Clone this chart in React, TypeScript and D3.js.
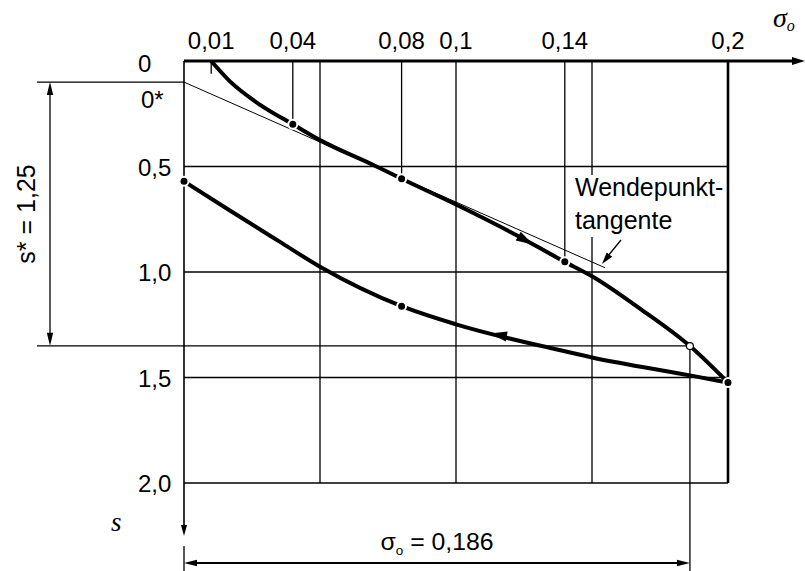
import { useEffect, useRef } from 'react';
import * as d3 from 'd3';

// top axis (sigma_o) ticks
const topTicks = [0.01, 0.04, 0.08, 0.1, 0.14, 0.2];
const topTickLabels = ['0,01', '0,04', '0,08', '0,1', '0,14', '0,2'];
const gridSigma = [0.05, 0.1, 0.15];
// left axis (s) ticks
const leftTicks = [0, 0.5, 1.0, 1.5, 2.0];
const leftTickLabels = ['0', '0,5', '1,0', '1,5', '2,0'];

// loading branch (upper curve)
const loadSigma = [0.01, 0.017, 0.028, 0.04, 0.05, 0.07, 0.08, 0.1, 0.12, 0.14, 0.15, 0.168, 0.186, 0.2];
const loadS = [0.0, 0.098, 0.208, 0.3, 0.375, 0.495, 0.558, 0.68, 0.81, 0.952, 1.02, 1.177, 1.351, 1.524];

// unloading branch (lower curve)
const unloadSigma = [0.0, 0.017, 0.035, 0.05, 0.08, 0.1, 0.138, 0.15, 0.186, 0.2];
const unloadS = [0.57, 0.71, 0.855, 0.975, 1.162, 1.248, 1.37, 1.405, 1.49, 1.524];

// marked points
const dropSigma = [0.04, 0.08, 0.14];
const dropS = [0.3, 0.558, 0.952];
const unloadDotSigma = [0.0, 0.08];
const unloadDotS = [0.57, 1.162];
const endSigma = 0.2;
const endS = 1.524;
const sigma0 = 0.186;
const sAtSigma0 = 1.351;

// inflection tangent
const tangentSigma = [0, 0.1548];
const tangentS = [0.1, 0.98];

// s* dimension
const sStarTop = 0.1;
const sStarBottom = 1.35;

// direction arrows on the curves
const arrowSigma = [0.1283, 0.1125];
const arrowS = [0.87, 1.292];
const arrowDir = [1, -1];

function App() {
  const svgRef = useRef<SVGSVGElement>(null);

  useEffect(() => {
    if (!svgRef.current) return;
    const svg = d3.select(svgRef.current);
    svg.selectAll('*').remove();

    const x = d3.scaleLinear().domain([0, 0.2]).range([184, 728]);
    const y = d3.scaleLinear().domain([0, 2]).range([61, 483]);
    const sans = 'Liberation Sans, Arial, sans-serif';
    const serif = 'Liberation Serif, Times New Roman, serif';

    const g = svg.append('g');

    const arrowHead = (tx: number, ty: number, angle: number, len = 13, half = 3.2) => {
      const c = Math.cos(angle), s = Math.sin(angle);
      const bx = tx - c * len, by = ty - s * len;
      g.append('path')
        .attr('d', `M${tx},${ty}L${bx - s * half},${by + c * half}L${bx + s * half},${by - c * half}Z`)
        .attr('fill', '#000');
    };

    const line = (x1: number, y1: number, x2: number, y2: number, w = 1.3) =>
      g.append('line')
        .attr('x1', x1).attr('y1', y1).attr('x2', x2).attr('y2', y2)
        .attr('stroke', '#000').attr('stroke-width', w);

    // grid
    gridSigma.forEach(v => line(x(v), y(0), x(v), y(2)));
    leftTicks.slice(1).forEach(v => line(x(0), y(v), x(0.2), y(v)));

    // drop lines from top axis to marked points
    dropSigma.forEach((v, i) => line(x(v), y(0), x(v), y(dropS[i])));

    // right boundary at 0.2
    line(x(0.2), y(0), x(0.2), y(2), 2.6);

    // left axis (s) with arrow
    line(x(0), y(0), x(0), 530, 1.6);
    arrowHead(x(0), 536, Math.PI / 2, 11, 3);
    line(x(0), 546, x(0), 571, 1.3);

    // top axis (sigma_o) with arrow
    line(x(0), y(0), 795, y(0), 3);
    arrowHead(805, y(0), 0, 13, 4);

    // s* dimension
    line(37, y(sStarTop), x(0), y(sStarTop));
    line(37, y(sStarBottom), x(sigma0), y(sStarBottom));
    line(50, y(sStarTop) + 6, 50, y(sStarBottom) - 6, 1.3);
    arrowHead(50, y(sStarTop), -Math.PI / 2);
    arrowHead(50, y(sStarBottom), Math.PI / 2);

    // sigma0 dimension
    line(x(sigma0), y(sAtSigma0), x(sigma0), 571);
    line(x(0) + 6, 563, x(sigma0) - 6, 563, 2);
    arrowHead(x(0), 563, Math.PI);
    arrowHead(x(sigma0), 563, 0);

    // tangent
    g.append('path')
      .datum(tangentSigma.map((v, i) => [v, tangentS[i]]))
      .attr('d', d3.line<number[]>().x(d => x(d[0])).y(d => y(d[1])))
      .attr('stroke', '#000').attr('stroke-width', 1).attr('fill', 'none');

    // curves
    const curve = d3.line<number[]>().x(d => x(d[0])).y(d => y(d[1])).curve(d3.curveMonotoneX);
    g.append('path')
      .datum(loadSigma.map((v, i) => [v, loadS[i]]))
      .attr('d', curve)
      .attr('stroke', '#000').attr('stroke-width', 4).attr('fill', 'none');
    g.append('path')
      .datum(unloadSigma.map((v, i) => [v, unloadS[i]]))
      .attr('d', curve)
      .attr('stroke', '#000').attr('stroke-width', 4).attr('fill', 'none');

    // start tick on loading curve
    line(x(loadSigma[0]), y(0), x(loadSigma[0]), y(0.06), 1.3);

    // curve direction arrows
    arrowSigma.forEach((v, i) => {
      const dir = arrowDir[i];
      const xs = dir > 0 ? loadSigma : unloadSigma;
      const ys = dir > 0 ? loadS : unloadS;
      const interp = d3.scaleLinear().domain(xs).range(ys);
      const tx = x(v), ty = y(arrowS[i]);
      const bx = x(v - dir * 0.004), by = y(interp(v - dir * 0.004));
      arrowHead(tx, ty, Math.atan2(ty - by, tx - bx), 17, 5);
    });

    // dots
    const dot = (sx: number, sy: number) =>
      g.append('circle').attr('cx', x(sx)).attr('cy', y(sy)).attr('r', 4.5)
        .attr('fill', '#000').attr('stroke', '#fff').attr('stroke-width', 2);
    dropSigma.forEach((v, i) => dot(v, dropS[i]));
    unloadDotSigma.forEach((v, i) => dot(v, unloadDotS[i]));
    dot(endSigma, endS);
    g.append('circle').attr('cx', x(sigma0)).attr('cy', y(sAtSigma0)).attr('r', 3.5)
      .attr('fill', '#fff').attr('stroke', '#000').attr('stroke-width', 1.2);

    // top tick labels
    topTicks.forEach((v, i) => {
      g.append('text').attr('x', x(v)).attr('y', 49)
        .attr('text-anchor', 'middle').attr('font-family', sans).attr('font-size', 24)
        .text(topTickLabels[i]);
    });

    // left tick labels
    leftTicks.forEach((v, i) => {
      g.append('text').attr('x', 138).attr('y', v === 0 ? 72 : y(v) + 9)
        .attr('font-family', sans).attr('font-size', 24)
        .text(leftTickLabels[i]);
    });
    g.append('text').attr('x', 141).attr('y', 108)
      .attr('font-family', sans).attr('font-size', 24).text('0*');

    // axis names
    const sig = g.append('text').attr('x', 773).attr('y', 27)
      .attr('font-family', serif).attr('font-style', 'italic').attr('font-size', 28);
    sig.append('tspan').text('σ');
    sig.append('tspan').attr('font-size', 16).attr('dy', 4).text('o');

    g.append('text').attr('x', 111).attr('y', 531)
      .attr('font-family', serif).attr('font-style', 'italic').attr('font-size', 27).text('s');

    // s* label
    g.append('text')
      .attr('transform', `translate(35,${(y(sStarTop) + y(sStarBottom)) / 2}) rotate(-90)`)
      .attr('text-anchor', 'middle').attr('font-family', sans).attr('font-size', 25)
      .text('s* = 1,25');

    // sigma0 label
    const s0 = g.append('text').attr('x', 437).attr('y', 550)
      .attr('text-anchor', 'middle').attr('font-family', sans).attr('font-size', 24)
      .attr('textLength', 113).attr('lengthAdjust', 'spacingAndGlyphs');
    s0.append('tspan').text('σ');
    s0.append('tspan').attr('font-size', 13).attr('dy', 5).text('o');
    s0.append('tspan').attr('dy', -5).text(' = 0,186');

    // tangent label
    g.append('rect').attr('x', 571).attr('y', 175).attr('width', 120).attr('height', 62).attr('fill', '#fff');
    g.append('text').attr('x', 575).attr('y', 196)
      .attr('font-family', sans).attr('font-size', 25).text('Wendepunkt-');
    g.append('text').attr('x', 575).attr('y', 229)
      .attr('font-family', sans).attr('font-size', 25).text('tangente');
    line(621, 240, 608, 256, 1.3);
    arrowHead(602, 264, Math.atan2(264 - 240, 602 - 621), 12, 3.5);
  }, []);

  return (
    <svg
      ref={svgRef}
      width={805}
      height={571}
      style={{ position: 'absolute', left: 0, top: 0, background: '#fff' }}
    />
  );
}

export default App;
